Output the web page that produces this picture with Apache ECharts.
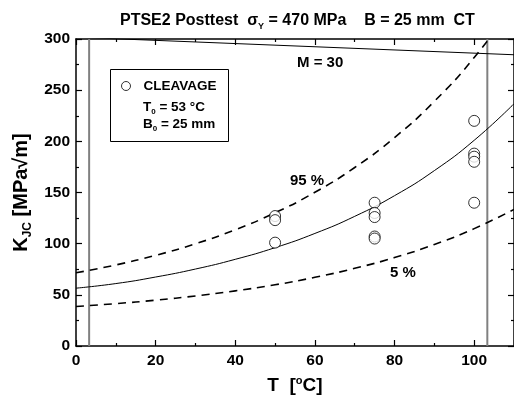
<!DOCTYPE html>
<html>
<head>
<meta charset="utf-8">
<script src="https://cdn.jsdelivr.net/npm/echarts@6/dist/echarts.min.js"></script>
<style>
html, body { margin: 0; padding: 0; background: #fff; }
#chart { width: 514px; height: 403px; }
</style>
</head>
<body>
<div id="chart"></div>
<script>
var temps = [0, 10, 20, 30, 40, 50, 60, 70, 80, 90, 100, 110];
// master curve median and tolerance bounds, K_JC in MPa*sqrt(m)
var median = [56.5, 61, 67.4, 75.2, 84.7, 96.1, 110, 126.7, 146.9, 171.4, 201, 236.7];
var upper95 = [71.5, 79.2, 88.6, 99.9, 113.6, 130.2, 150.2, 174.4, 203.7, 239.1, 281.9, 333.7];
var lower05 = [38.6, 41.4, 44.8, 48.9, 53.9, 59.8, 67.1, 75.9, 86.4, 99.2, 114.7, 133.5];
// M = 30 limit line
var limitT = [0, 110];
var limitK = [301.8, 284.6];
// validity range T0 +/- 50
var validT = [3.3, 103.3];
// cleavage test results
var testT = [50, 50, 50, 75, 75, 75, 75, 75, 100, 100, 100, 100, 100];
var testK = [127, 123, 101, 140, 130, 126, 107, 105, 220, 188, 185, 180, 140];

function pairs(xs, ys) {
    return xs.map(function (x, i) { return [x, ys[i]]; });
}

var font = 'Arial, "Liberation Sans", sans-serif';
var black = '#000';

function tickAxis(extra) {
    var base = {
        type: 'value',
        axisLine: { show: true, onZero: false, lineStyle: { color: black, width: 1.5 } },
        axisTick: { show: true, inside: true, length: 6, lineStyle: { color: black, width: 1.2 } },
        minorTick: { show: true, splitNumber: 2, length: 3, lineStyle: { color: black, width: 1.2 } },
        axisLabel: { fontSize: 15.5, fontWeight: 'bold', color: black, margin: 6, fontFamily: font },
        splitLine: { show: false }
    };
    return Object.assign(base, extra);
}

var subText = function (size) {
    return {
        t: { fontSize: size, fontWeight: 'bold', fill: black, color: black, fontFamily: font, lineHeight: size + 4 },
        s: { fontSize: Math.round(size * 0.58), fontWeight: 'bold', fill: black, color: black, fontFamily: font,
             verticalAlign: 'bottom', lineHeight: Math.round(size * 0.8), padding: [Math.round(size * 0.45), 0, 0, 0] }
    };
};

var option = {
    animation: false,
    backgroundColor: '#fff',
    textStyle: { fontFamily: font },
    title: {
        left: 115,
        top: 6,
        text: '{t|PTSE2 Posttest  σ}{s|Y}{t| = 470 MPa    B = 25 mm  CT}',
        textStyle: { rich: subText(16) }
    },
    legend: {
        left: 116,
        top: 74,
        itemWidth: 9,
        itemHeight: 9,
        data: [{ name: 'CLEAVAGE', itemStyle: { color: '#fff', borderColor: black, borderWidth: 1 } }],
        textStyle: { fontSize: 13.5, fontWeight: 'bold', color: black, fontFamily: font, padding: [0, 0, 0, 8] }
    },
    grid: { left: 76, top: 39, right: -2, bottom: 57 },
    xAxis: [
        tickAxis({
            min: 0, max: 110, interval: 20,
            name: '{t|T  [}{o|o}{t|C]}',
            nameLocation: 'middle',
            nameGap: 29,
            nameTextStyle: { rich: {
                t: { fontSize: 19, fontWeight: 'bold', color: black, fontFamily: font, lineHeight: 22 },
                o: { fontSize: 11, fontWeight: 'bold', color: black, fontFamily: font, verticalAlign: 'top', lineHeight: 22, padding: [0, 0, 8, 0] }
            } },
            axisLabel: { fontSize: 15.5, fontWeight: 'bold', color: black, margin: 7, fontFamily: font, showMaxLabel: false }
        }),
        tickAxis({ position: 'top', min: 0, max: 110, interval: 20, axisLabel: { show: false } })
    ],
    yAxis: [
        tickAxis({
            min: 0, max: 300, interval: 50,
            name: '{t|K}{s|JC}{t| [MPa√m]}',
            nameLocation: 'middle',
            nameRotate: 90,
            nameGap: 37,
            nameTextStyle: { rich: subText(20) }
        }),
        tickAxis({ position: 'right', min: 0, max: 300, interval: 50, axisLabel: { show: false } })
    ],
    graphic: [
        { type: 'rect', shape: { x: 110.5, y: 69.5, width: 118, height: 72 }, style: { fill: 'none', stroke: black, lineWidth: 1 }, z: 10 },
        { type: 'text', left: 143, top: 100, z: 10, style: { text: '{t|T}{s|0}{t| = 53 °C}', rich: subText(13.5) } },
        { type: 'text', left: 143, top: 117, z: 10, style: { text: '{t|B}{s|0}{t| = 25 mm}', rich: subText(13.5) } },
        { type: 'text', left: 297, top: 55, z: 10, style: { text: 'M = 30', fontSize: 15, fontWeight: 'bold', fill: black, fontFamily: font } },
        { type: 'text', left: 290, top: 173, z: 10, style: { text: '95 %', fontSize: 15, fontWeight: 'bold', fill: black, fontFamily: font } },
        { type: 'text', left: 390, top: 265, z: 10, style: { text: '5 %', fontSize: 15, fontWeight: 'bold', fill: black, fontFamily: font } }
    ],
    series: [
        {
            name: 'validLow', type: 'line', symbol: 'none',
            data: [[validT[0], 0], [validT[0], 300]],
            lineStyle: { color: '#808080', width: 2 }
        },
        {
            name: 'validHigh', type: 'line', symbol: 'none',
            data: [[validT[1], 0], [validT[1], 300]],
            lineStyle: { color: '#808080', width: 2 }
        },
        {
            name: 'M30', type: 'line', symbol: 'none',
            data: pairs(limitT, limitK),
            lineStyle: { color: black, width: 1 }
        },
        {
            name: 'median', type: 'line', symbol: 'none', smooth: true,
            data: pairs(temps, median),
            lineStyle: { color: black, width: 1 }
        },
        {
            name: '95', type: 'line', symbol: 'none', smooth: true,
            data: pairs(temps, upper95),
            lineStyle: { color: black, width: 1.6, type: [8, 6] }
        },
        {
            name: '5', type: 'line', symbol: 'none', smooth: true,
            data: pairs(temps, lower05),
            lineStyle: { color: black, width: 1.6, type: [8, 6] }
        },
        {
            name: 'CLEAVAGE', type: 'scatter', symbol: 'circle', symbolSize: 11,
            data: pairs(testT, testK),
            itemStyle: { color: '#fff', borderColor: black, borderWidth: 1 },
            z: 5
        }
    ]
};

var chart = echarts.init(document.getElementById('chart'), null, { renderer: 'canvas' });
chart.setOption(option);
</script>
</body>
</html>
